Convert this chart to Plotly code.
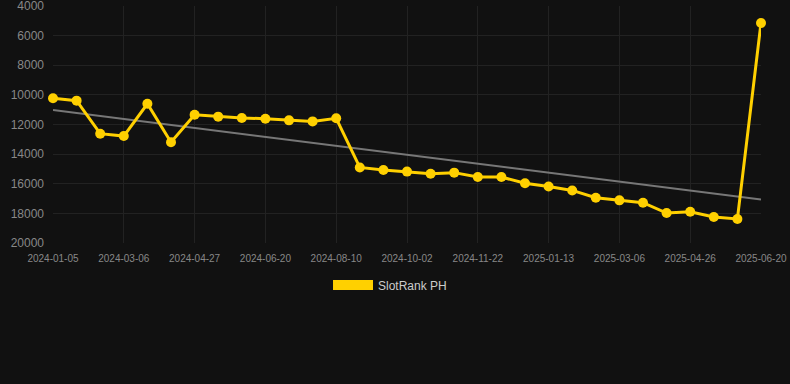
import numpy as np
import plotly.graph_objects as go

dates = [
    "2024-01-05", "2024-01-25", "2024-02-14", "2024-03-06", "2024-03-23", "2024-04-10",
    "2024-04-27", "2024-05-15", "2024-06-02", "2024-06-20", "2024-07-07", "2024-07-24",
    "2024-08-10", "2024-08-28", "2024-09-15", "2024-10-02", "2024-10-19", "2024-11-05",
    "2024-11-22", "2024-12-09", "2024-12-26", "2025-01-13", "2025-01-30", "2025-02-16",
    "2025-03-06", "2025-03-23", "2025-04-09", "2025-04-26", "2025-05-14", "2025-06-01",
    "2025-06-20",
]
ranks = [
    10230, 10390, 12620, 12780, 10600, 13200, 11340, 11470, 11560, 11610, 11720, 11790,
    11580, 14900, 15070, 15180, 15320, 15250, 15550, 15550, 15970, 16180, 16450, 16940,
    17120, 17280, 17980, 17890, 18250, 18380, 5150,
]
tick_labels = dates[::3]
y_ticks = [4000, 6000, 8000, 10000, 12000, 14000, 16000, 18000, 20000]
y_tick_text = [str(v) for v in y_ticks]
series_name = "SlotRank PH"

gold = "#FFD000"
idx = np.arange(len(ranks))
slope, intercept = np.polyfit(idx, np.array(ranks, dtype=float), 1)
trend = slope * idx + intercept

fig = go.Figure()
fig.add_trace(go.Scatter(
    x=dates, y=trend, mode="lines",
    line=dict(color="#777777", width=2),
    showlegend=False, hoverinfo="skip",
))
fig.add_trace(go.Scatter(
    x=dates, y=ranks, mode="lines+markers",
    line=dict(color=gold, width=3),
    marker=dict(color=gold, size=10),
    name=series_name, showlegend=False, cliponaxis=False,
))
fig.add_trace(go.Scatter(
    x=[None], y=[None], mode="lines",
    line=dict(color=gold, width=12),
    name=series_name, showlegend=True,
))

fig.update_layout(
    width=790, height=384,
    margin=dict(l=53, r=29, t=6, b=141, autoexpand=False),
    paper_bgcolor="#111111", plot_bgcolor="#111111",
    font=dict(family="Liberation Sans, Arial, sans-serif", color="#888888", size=12),
    showlegend=True,
    legend=dict(
        orientation="h", x=0.476, xanchor="center", y=-0.177, yanchor="middle",
        font=dict(color="#cccccc", size=12), itemwidth=40,
        bgcolor="rgba(0,0,0,0)",
    ),
    xaxis=dict(
        type="category", range=[0, len(dates) - 1], automargin=False,
        tickmode="array", tickvals=tick_labels, ticktext=tick_labels,
        tickfont=dict(size=10, color="#888888"), ticklabeloverflow="allow",
        showgrid=True, gridcolor="#222222", gridwidth=1,
        zeroline=False, showline=False, ticks="", ticklabelstandoff=8,
    ),
    yaxis=dict(
        range=[20000, 4000], tickmode="array", tickvals=y_ticks, ticktext=y_tick_text,
        automargin=False, ticklabeloverflow="allow",
        tickfont=dict(size=12, color="#888888"),
        showgrid=True, gridcolor="#222222", gridwidth=1,
        zeroline=False, showline=False, ticks="", ticklabelstandoff=8,
    ),
)

fig.write_html(
    "out.html",
    config={"displayModeBar": False},
    post_script="document.body.style.margin='0';document.body.style.background='#111111';",
)
